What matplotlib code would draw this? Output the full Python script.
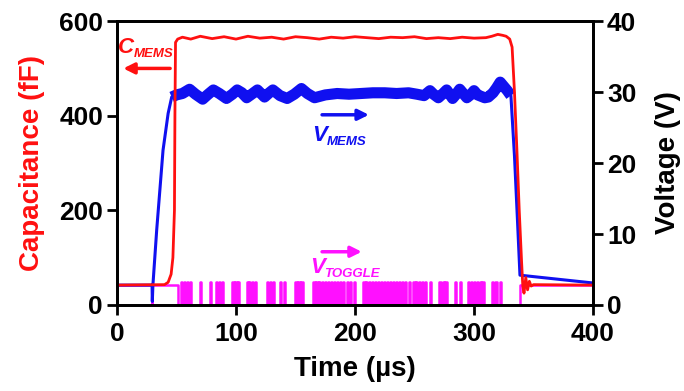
import matplotlib
matplotlib.use("Agg")
import matplotlib.pyplot as plt

plt.rcParams['font.family'] = ['Liberation Sans', 'DejaVu Sans']
plt.rcParams['font.weight'] = 'bold'

# C_MEMS (fF) vs time (us)
cap_t = [0, 40, 43, 45.5, 47, 48.3, 48.7, 49.2, 51, 55, 62, 70, 80, 90, 100, 110, 120, 130, 140, 150,
         160, 170, 180, 190, 200, 210, 220, 230, 240, 250, 260, 270, 280, 290, 300, 310, 315, 320, 324,
         327, 330, 332, 334, 336, 338, 340, 341, 342, 343.5, 345, 346.5, 348, 350, 400]
cap_ff = [42, 43, 48, 65, 100, 200, 400, 555, 562, 566, 562, 568, 563, 567, 562, 568, 564, 566, 562, 567,
          565, 562, 566, 564, 567, 565, 563, 566, 565, 567, 563, 565, 563, 566, 564, 565, 568, 572, 570,
          568, 562, 545, 450, 330, 200, 90, 40, 25, 58, 32, 50, 40, 43, 42]

# V_MEMS (V) vs time (us)
vm_t = [0, 29.5, 29.7, 30.2, 33.4, 38.7, 43, 46, 50, 55, 61, 66, 72, 76, 81, 86, 92, 97, 101, 105, 109,
        114, 118, 121, 124, 128, 131, 137, 143, 149, 155, 160, 166, 175, 185, 195, 205, 215, 225, 235,
        245, 252, 258, 263, 266, 270, 274, 277, 280, 282, 285, 288, 291, 294, 297, 300, 303, 306, 309,
        312, 316, 319, 322, 325, 328, 331, 334, 336.5, 338.6, 400]
vm_v = [2.8, 2.8, 0.5, 2.8, 10.6, 21.8, 27, 29.3, 29.6, 29.8, 30.4, 29.7, 29.0, 29.6, 30.3, 29.8, 29.1,
        29.7, 30.3, 29.9, 29.2, 29.8, 30.3, 29.8, 29.3, 29.9, 30.3, 29.5, 29.1, 29.7, 30.5, 29.8, 29.2,
        29.6, 29.8, 29.7, 29.8, 29.9, 29.9, 29.8, 29.9, 29.7, 29.5, 30.2, 29.7, 29.2, 29.8, 30.3, 29.6,
        29.1, 29.7, 30.4, 29.8, 29.2, 29.6, 30.2, 29.6, 29.4, 29.2, 29.3, 29.9, 30.6, 31.4, 30.8, 30.2,
        29.5, 21, 12, 4.2, 3.1]

# V_TOGGLE: idle level and pulse start times (us)
tog_hi = 2.8
pulse_hi = 3.2
pulse_w = 1.0
pulse_starts = [54, 56.5, 59, 61, 70, 78, 83, 85.5, 88, 97, 99.5, 101.5, 109, 111, 113.5, 116,
                126, 128.5, 131, 137, 140, 150, 152.5, 155,
                165, 167.5, 170, 172.5, 175, 177.5, 180, 182.5, 185, 187.5, 190, 193, 196, 199,
                207, 209.5, 212, 214.5, 217, 219.5, 222, 224.5, 227, 229.5, 232, 234.5, 237, 239.5,
                242, 245, 249, 251.5, 254, 256.5, 259, 263, 271, 274, 276, 284, 288,
                295, 297.5, 300, 302.5, 305, 307, 315, 318, 322]
tog_dip, tog_low, tog_back = 29.3, 51, 338.6

# build toggle waveform
tt = [0, tog_dip, tog_dip, tog_dip + 0.3, tog_dip + 0.3, tog_low, tog_low]
tv = [tog_hi, tog_hi, 0, 0, tog_hi, tog_hi, 0]
for s in pulse_starts:
    tt += [s, s, s + pulse_w, s + pulse_w]
    tv += [0, pulse_hi, pulse_hi, 0]
tt += [tog_back, tog_back, 400]
tv += [0, tog_hi, tog_hi]

fig, ax = plt.subplots(figsize=(6.84, 3.91), dpi=100)
fig.subplots_adjust(left=0.171, right=0.867, bottom=0.22, top=0.946)
ax2 = ax.twinx()
ax.set_zorder(ax2.get_zorder() + 1)
ax.patch.set_visible(False)

red = '#ff1010'
blue = '#1010f0'
mag = '#ff10ff'

ax2.plot(tt, tv, color=mag, lw=1.8)
ax2.plot(vm_t, vm_v, color=blue, lw=2.2)
i0, i1 = vm_t.index(46), vm_t.index(331)
ax2.plot(vm_t[i0:i1 + 1], vm_v[i0:i1 + 1], color=blue, lw=8, solid_capstyle='butt')
ax.plot(cap_t, cap_ff, color=red, lw=2)

ax.set_xlim(0, 400)
ax.set_ylim(0, 600)
ax2.set_ylim(0, 40)
ax.set_xticks([0, 100, 200, 300, 400])
ax.set_yticks([0, 200, 400, 600])
ax2.set_yticks([0, 10, 20, 30, 40])

for a in (ax, ax2):
    for sp in a.spines.values():
        sp.set_linewidth(2)
    a.tick_params(width=2, length=7, labelsize=19, direction='out', pad=3)
    for lab in a.get_xticklabels() + a.get_yticklabels():
        lab.set_fontweight('bold')
ax.tick_params(axis='x', pad=5)

ax.set_xlabel('Time (µs)', fontsize=20, fontweight='bold')
ax.set_ylabel('Capacitance (fF)', fontsize=20, fontweight='bold', color=red)
ax2.set_ylabel('Voltage (V)', fontsize=20, fontweight='bold')
ax.xaxis.set_label_coords(0.5, -0.18)
ax.yaxis.set_label_coords(-0.152, 0.5)
ax2.yaxis.set_label_coords(1.13, 0.5)


def label(a, x, y, main, sub, color):
    a.text(x, y, main, color=color, fontsize=16, fontweight='bold', style='italic')
    a.annotate(sub, xy=(x, y), xytext=(10.5 if main == 'V' else 11, -3), textcoords='offset points',
               color=color, fontsize=9.5, fontweight='bold', style='italic')


label(ax, 1, 532, 'C', 'MEMS', red)
ax.annotate('', xy=(3, 500), xytext=(47, 500),
            arrowprops=dict(arrowstyle='-|>', color=red, lw=2.5, mutation_scale=16))
label(ax2, 164, 23.1, 'V', 'MEMS', blue)
ax2.annotate('', xy=(214, 26.8), xytext=(170, 26.8),
             arrowprops=dict(arrowstyle='-|>', color=blue, lw=2.5, mutation_scale=16))
label(ax2, 162, 4.5, 'V', 'TOGGLE', mag)
ax2.annotate('', xy=(208, 7.5), xytext=(170, 7.5),
             arrowprops=dict(arrowstyle='-|>', color=mag, lw=2.5, mutation_scale=16))

fig.savefig('out.png', dpi=100)
